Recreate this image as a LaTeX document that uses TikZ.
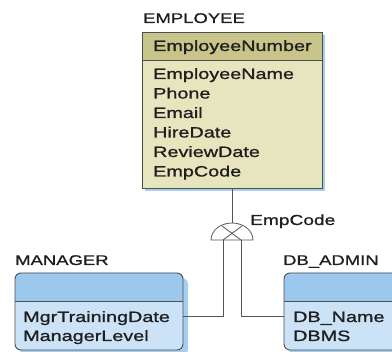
\documentclass[tikz,border=0pt]{standalone}
\usepackage{fontspec}
\setmainfont{Liberation Sans}[FakeStretch=1.32, FakeBold=1.1]
\definecolor{emphdr}{HTML}{C8C48A}
\definecolor{empbody}{HTML}{E6E5BE}
\definecolor{bluehdr}{HTML}{9CC8EE}
\definecolor{bluebody}{HTML}{CCE2F6}
\definecolor{shadowblue}{HTML}{A6CEF0}
\definecolor{edgegray}{HTML}{4D4D4D}
\definecolor{linegray}{HTML}{555555}
\tikzset{
  ent/.style={draw=edgegray, line width=0.9pt, inner sep=0pt},
  attr/.style={anchor=base west, inner sep=0pt, text=black!88, font=\fontsize{15}{18}\selectfont},
  title/.style={anchor=base west, inner sep=0pt, text=black!88, font=\fontsize{14}{17}\selectfont},
  conn/.style={draw=linegray, line width=0.8pt},
}
\begin{document}
\begin{tikzpicture}[x=1pt, y=-1pt]
\useasboundingbox (0,0) rectangle (392,352);

% ---- EMPLOYEE ----
\fill[shadowblue] (145,35) rectangle (325,191);
\fill[empbody] (142,32) rectangle (322,188);
\fill[emphdr] (142,32) rectangle (322,60);
\draw[edgegray, line width=0.9pt] (142,60) -- (322,60);
\node[ent, minimum width=180pt, minimum height=156pt] (emp) at (232,110) {};
\node[title] (empt) at (143,23) {EMPLOYEE};
\node[attr] (a0) at (153,51) {EmployeeNumber};
\node[attr] (a1) at (153,79) {EmployeeName};
\node[attr] (a2) at (153,98.5) {Phone};
\node[attr] (a3) at (153,118) {Email};
\node[attr] (a4) at (153,137.5) {HireDate};
\node[attr] (a5) at (153,157) {ReviewDate};
\node[attr] (a6) at (153,176.5) {EmpCode};

% ---- MANAGER ----
\fill[shadowblue, rounded corners=6pt] (20,278) rectangle (188,355);
\fill[bluebody, rounded corners=6pt] (15,273) rectangle (183,350);
\begin{scope}
  \clip (15,273) rectangle (183,301);
  \fill[bluehdr, rounded corners=6pt] (15,273) rectangle (183,350);
\end{scope}
\draw[edgegray, line width=0.9pt] (15,301) -- (183,301);
\node[ent, rounded corners=6pt, minimum width=168pt, minimum height=77pt] (mgr) at (99,311.5) {};
\node[title] (mgrt) at (15,265) {MANAGER};
\node[attr] (m1) at (23,322) {MgrTrainingDate};
\node[attr] (m2) at (23,341) {ManagerLevel};

% ---- DB_ADMIN ----
\fill[shadowblue, rounded corners=6pt] (289,278) rectangle (410,355);
\fill[bluebody, rounded corners=6pt] (284,273) rectangle (405,350);
\begin{scope}
  \clip (284,273) rectangle (405,301);
  \fill[bluehdr, rounded corners=6pt] (284,273) rectangle (405,350);
\end{scope}
\draw[edgegray, line width=0.9pt] (284,301) -- (405,301);
\node[ent, rounded corners=6pt, minimum width=121pt, minimum height=77pt] (dba) at (344.5,311.5) {};
\node[title] (dbat) at (283,265) {DB\_ADMIN};
\node[attr] (d1) at (293,322) {DB\_Name};
\node[attr] (d2) at (293,341) {DBMS};

% ---- category junction ----
\coordinate (jtop) at (232,223);
\coordinate (jl) at (211,240);
\coordinate (jr) at (253,240);
\coordinate (legL) at (223,240);
\coordinate (legR) at (241,240);
\coordinate (hl) at (0,316);
\draw[conn] (emp.south) -- (jtop);
\draw[conn] (jl) .. controls (211,230.6) and (220.4,223) .. (jtop)
               .. controls (243.6,223) and (253,230.6) .. (jr) -- cycle;
\draw[conn] (222,226) -- (legR);
\draw[conn] (242,226) -- (legL);
\draw[conn] (legL) |- (mgr.east |- hl);
\draw[conn] (legR) |- (dba.west |- hl);
\node[title, font=\fontsize{14.5}{17}\selectfont] (disc) at (250,225) {EmpCode};
\end{tikzpicture}
\end{document}
